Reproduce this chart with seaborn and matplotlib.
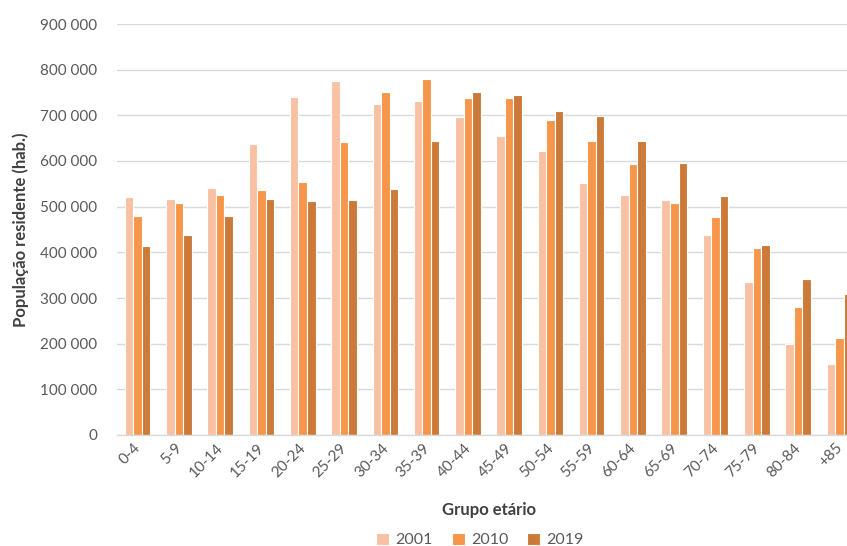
import pandas as pd
import matplotlib.pyplot as plt
import matplotlib.transforms as mtransforms
import seaborn as sns
from matplotlib.ticker import FuncFormatter

age_groups = ["0-4", "5-9", "10-14", "15-19", "20-24", "25-29", "30-34", "35-39", "40-44",
              "45-49", "50-54", "55-59", "60-64", "65-69", "70-74", "75-79", "80-84", "+85"]
years = ["2001", "2010", "2019"]
pop_2001 = [522000, 517000, 541000, 638000, 741000, 775000, 725000, 731000, 696000,
            655000, 621000, 551000, 525000, 515000, 437000, 336000, 199000, 156000]
pop_2010 = [479000, 509000, 526000, 536000, 553000, 642000, 752000, 779000, 737000,
            737000, 689000, 644000, 593000, 509000, 477000, 410000, 280000, 212000]
pop_2019 = [414000, 439000, 479000, 517000, 513000, 515000, 539000, 644000, 752000,
            744000, 709000, 699000, 644000, 596000, 524000, 416000, 342000, 309000]

df = pd.DataFrame({
    "grupo": age_groups * 3,
    "ano": [y for y in years for _ in age_groups],
    "pop": pop_2001 + pop_2010 + pop_2019,
})

sns.set_theme(style="white")
plt.rcParams["font.family"] = ["Lato", "DejaVu Sans"]

colors = ["#F9C1A3", "#F5964A", "#CB7A3A"]
text_gray = "#595959"

fig = plt.figure(figsize=(8.47, 5.46), dpi=100)
ax = fig.add_axes([117 / 847, 1 - 435 / 546, (860 - 117) / 847, (435 - 24) / 546])

sns.barplot(data=df, x="grupo", y="pop", hue="ano", palette=colors, width=0.62,
            saturation=1, edgecolor="white", linewidth=0.8, ax=ax, legend=True)

ax.set_ylim(0, 900000)
ax.set_yticks(range(0, 900001, 100000))
ax.yaxis.set_major_formatter(FuncFormatter(lambda v, p: f"{int(v):,}".replace(",", " ")))
ax.yaxis.grid(True, color="#D9D9D9", linewidth=1)
ax.set_axisbelow(True)
for s in ["top", "right", "left"]:
    ax.spines[s].set_visible(False)
ax.spines["bottom"].set_color("#D9D9D9")
ax.spines["bottom"].set_linewidth(1)
ax.tick_params(axis="y", length=0, labelsize=11, labelcolor=text_gray, pad=14)
ax.tick_params(axis="x", length=0, labelsize=11, labelcolor=text_gray, pad=4)
shift = mtransforms.ScaledTranslation(-4 / 100, 0, fig.dpi_scale_trans)
for lbl in ax.get_xticklabels():
    lbl.set_rotation(45)
    lbl.set_ha("right")
    lbl.set_rotation_mode("anchor")
    lbl.set_transform(lbl.get_transform() + shift)

ax.set_ylabel("População residente (hab.)", fontsize=12, fontweight="bold", color="#404040", labelpad=8)
ax.set_xlabel("Grupo etário", fontsize=12, fontweight="bold", color="#404040", labelpad=16)

ax.legend(loc="center", bbox_to_anchor=(480 / 847, 1 - 540 / 546), bbox_transform=fig.transFigure,
          ncol=3, frameon=False, fontsize=11.5, handlelength=0.8, handleheight=0.8,
          handletextpad=0.4, columnspacing=1.2, labelcolor=text_gray)

fig.savefig("out.png", dpi=100)
